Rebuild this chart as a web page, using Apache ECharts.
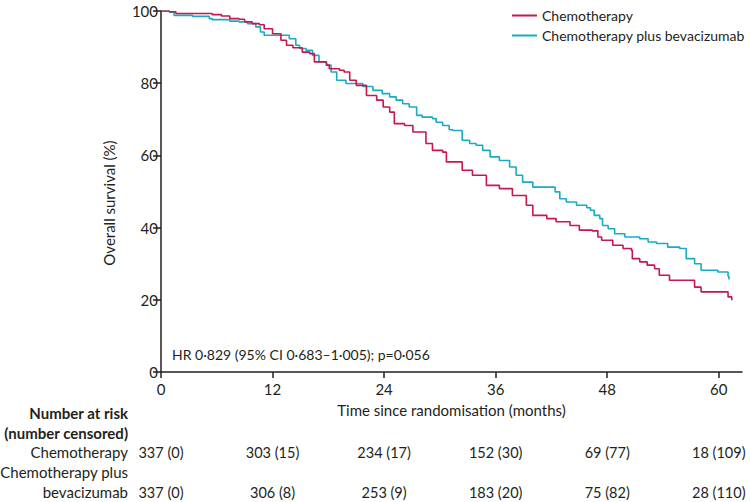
<!DOCTYPE html>
<html>
<head>
<meta charset="utf-8">
<script src="https://cdn.jsdelivr.net/npm/echarts@6/dist/echarts.min.js"></script>
<style>
  html, body { margin: 0; padding: 0; background: #fff; }
  #main { width: 750px; height: 502px; }
</style>
</head>
<body>
<div id="main"></div>
<script>
// Kaplan-Meier steps (months, % alive)
const chemoTime = [0, 0.9, 1.6, 5.5, 6.5, 7.4, 8.4, 9.0, 9.8, 10.6, 11.1, 12.0, 12.9, 13.5, 14.2, 15.2, 16.0, 16.5, 17.8, 18.1, 19.2, 19.7, 20.3, 21.0, 22.1, 23.2, 23.9, 24.6, 25.1, 26.2, 27.1, 28.5, 29.2, 30.3, 30.7, 32.4, 33.5, 35.0, 36.4, 37.8, 39.3, 40.0, 41.5, 42.5, 44.0, 45.0, 46.4, 47.0, 47.4, 48.6, 49.7, 50.6, 50.7, 51.5, 52.3, 53.1, 53.6, 54.7, 57.4, 58.1, 60.8, 61.0, 61.4]
const chemoSurv = [100, 99.8, 99.3, 99.0, 98.6, 97.9, 97.7, 97.0, 96.5, 96.2, 95.1, 93.7, 91.9, 90.5, 89.8, 88.6, 88.2, 85.9, 85.0, 84.0, 83.6, 83.1, 80.8, 79.4, 76.6, 75.3, 73.4, 72.0, 68.8, 68.3, 66.5, 63.3, 61.4, 60.9, 58.2, 55.9, 54.5, 51.7, 50.8, 48.9, 46.2, 43.4, 42.5, 41.6, 40.6, 39.3, 39.1, 37.4, 36.5, 35.1, 34.2, 33.7, 31.4, 30.5, 29.6, 28.6, 26.8, 25.4, 23.5, 22.2, 22.2, 20.8, 19.9]

const bevTime = [0, 0.9, 1.4, 3.4, 5.2, 5.5, 7.4, 8.4, 9.3, 10.2, 10.7, 11.1, 13.8, 14.5, 14.9, 15.6, 16.3, 17.0, 17.8, 18.3, 18.9, 19.9, 21.7, 22.8, 23.8, 24.6, 25.3, 26.0, 26.7, 27.5, 28.1, 29.2, 29.6, 30.3, 31.0, 31.4, 32.4, 33.2, 33.9, 34.6, 35.4, 36.4, 37.5, 38.2, 38.9, 40.0, 42.4, 42.9, 43.6, 44.7, 45.8, 46.2, 46.6, 47.2, 47.5, 48.1, 48.8, 49.9, 51.5, 52.4, 53.3, 54.5, 55.8, 56.5, 57.4, 58.1, 59.9, 61.0, 61.1]
const bevSurv = [100, 99.7, 98.8, 98.5, 97.9, 97.6, 97.2, 97.0, 96.5, 95.6, 94.2, 93.3, 92.3, 90.5, 89.6, 89.1, 87.7, 85.9, 85.0, 83.1, 80.8, 79.9, 79.1, 78.0, 77.1, 76.2, 75.3, 74.3, 73.4, 71.1, 70.6, 70.2, 69.2, 68.3, 67.1, 66.9, 64.2, 63.3, 62.8, 61.4, 59.6, 58.6, 56.8, 54.5, 52.6, 51.2, 49.9, 48.0, 47.1, 46.2, 45.5, 44.8, 43.4, 42.5, 40.6, 39.7, 38.3, 37.4, 36.9, 36.0, 35.6, 34.6, 34.2, 31.4, 30.0, 28.2, 27.7, 26.5, 25.6]

const xTicks = [0, 12, 24, 36, 48, 60]
const riskChemo = ['337 (0)', '303 (15)', '234 (17)', '152 (30)', '69 (77)', '18 (109)']
const riskBev = ['337 (0)', '306 (8)', '253 (9)', '183 (20)', '75 (82)', '28 (110)']

const FONT = 'Lato'
const TXT = '#231f20'
const RED = '#c8174a'
const BLUE = '#1aaac6'

const zip = (a, b) => a.map((v, i) => [v, b[i]])

const chart = echarts.init(document.getElementById('main'), null, { renderer: 'svg' })

const option = {
  animation: false,
  textStyle: { fontFamily: FONT, color: TXT },
  grid: { left: 161, right: 8, top: 11, bottom: 130 },
  legend: {
    orient: 'vertical',
    left: 507,
    top: 3,
    icon: 'rect',
    itemWidth: 25,
    itemHeight: 2,
    itemGap: 5,
    textStyle: { fontFamily: FONT, fontSize: 14, color: TXT, lineHeight: 15 },
    data: ['Chemotherapy', 'Chemotherapy plus bevacizumab']
  },
  xAxis: {
    type: 'value',
    min: 0,
    max: 62.5,
    interval: 12,
    name: 'Time since randomisation (months)',
    nameLocation: 'middle',
    nameGap: 30,
    nameTextStyle: { fontFamily: FONT, fontSize: 15, color: TXT },
    splitLine: { show: false },
    axisLine: { lineStyle: { color: TXT, width: 1.5 } },
    axisTick: { customValues: xTicks, length: 6, lineStyle: { color: TXT, width: 1.5 } },
    axisLabel: { customValues: xTicks, fontFamily: FONT, fontSize: 15, color: TXT, margin: 9 }
  },
  yAxis: {
    type: 'value',
    min: 0,
    max: 100,
    interval: 20,
    splitLine: { show: false },
    axisLine: { show: true, lineStyle: { color: TXT, width: 1.5 } },
    axisTick: { show: true, length: 8, lineStyle: { color: TXT, width: 1.5 } },
    axisLabel: { fontFamily: FONT, fontSize: 15, color: TXT, margin: 3 }
  },
  series: [
    {
      name: 'Chemotherapy',
      type: 'line',
      step: 'end',
      showSymbol: false,
      color: RED,
      lineStyle: { width: 1.6, color: RED },
      data: zip(chemoTime, chemoSurv),
      z: 3
    },
    {
      name: 'Chemotherapy plus bevacizumab',
      type: 'line',
      step: 'end',
      showSymbol: false,
      color: BLUE,
      lineStyle: { width: 1.6, color: BLUE },
      data: zip(bevTime, bevSurv),
      z: 2
    }
  ]
}

chart.setOption(option)

// free texts and the number-at-risk table, placed under the x ticks
const txt = (x, y, s, align, size, bold) => ({
  type: 'text',
  x: x,
  y: y,
  style: {
    text: s,
    fill: TXT,
    font: (bold ? 'bold ' : '') + size + 'px ' + FONT,
    textAlign: align,
    textVerticalAlign: 'middle'
  }
})

const yName = txt(0, 0, 'Overall survival (%)', 'center', 15, false)
yName.x = 109
yName.y = 203
yName.rotation = Math.PI / 2

const graphics = [
  yName,
  txt(172, 354, 'HR 0·829 (95% CI 0·683–1·005); p=0·056', 'left', 14, false),
  txt(128, 413, 'Number at risk', 'right', 15, true),
  txt(128, 433, '(number censored)', 'right', 15, true),
  txt(128, 452, 'Chemotherapy', 'right', 15, false),
  txt(128, 472, 'Chemotherapy plus', 'right', 15, false),
  txt(128, 492, 'bevacizumab', 'right', 15, false)
]
xTicks.forEach((t, i) => {
  const px = chart.convertToPixel({ xAxisIndex: 0 }, t)
  graphics.push(txt(px, 452, riskChemo[i], 'center', 14.5, false))
  graphics.push(txt(px, 492, riskBev[i], 'center', 14.5, false))
})

chart.setOption({ graphic: graphics })
</script>
</body>
</html>
